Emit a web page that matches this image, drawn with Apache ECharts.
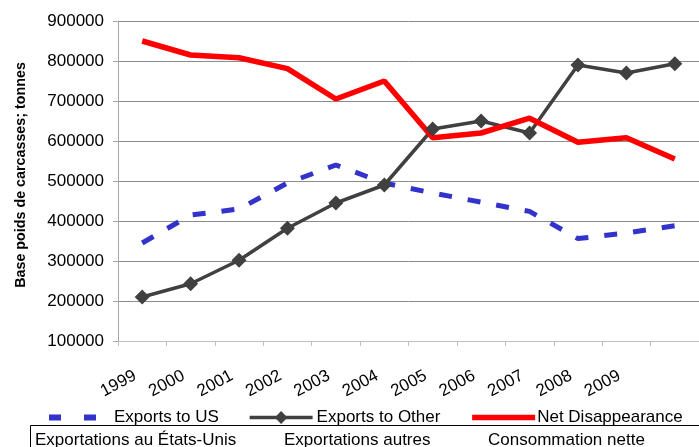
<!DOCTYPE html>
<html>
<head>
<meta charset="utf-8">
<script src="https://cdn.jsdelivr.net/npm/echarts@6/dist/echarts.min.js"></script>
<style>
  html, body { margin: 0; padding: 0; background: #fff; }
  #chart { width: 699px; height: 447px; }
</style>
</head>
<body>
<div id="chart"></div>
<script>
const years = ["1999", "2000", "2001", "2002", "2003", "2004", "2005", "2006", "2007", "2008", "2009", ""];
const exportsUS = [345000, 415000, 430000, 495000, 540000, 495000, 470000, 447000, 424000, 356000, 370000, 388000];
const exportsOther = [210000, 243000, 302000, 382000, 445000, 490000, 630000, 650000, 620000, 790000, 770000, 793000];
const netDisappearance = [850000, 815000, 808000, 781000, 705000, 750000, 608000, 620000, 657000, 597000, 608000, 555000];
const frenchLabels = ["Exportations au États-Unis", "Exportations autres", "Consommation nette"];

const font = "'Liberation Sans', Arial, sans-serif";
const chart = echarts.init(document.getElementById("chart"), null, { renderer: "canvas" });

chart.setOption({
  animation: false,
  textStyle: { fontFamily: font, color: "#000" },
  grid: { left: 118, right: -3, top: 21, bottom: 106, containLabel: false },
  legend: {
    left: 41,
    top: 404,
    width: 690,
    itemWidth: 63,
    itemHeight: 16,
    itemGap: 29,
    textStyle: { fontSize: 17, color: "#000", fontFamily: font, padding: [0, 0, 0, -3] },
    data: [
      { name: "Exports to US", itemStyle: { opacity: 0 }, lineStyle: { width: 6, type: [12, 23] } },
      { name: "Exports to Other", lineStyle: { width: 3.5 }, textStyle: { padding: [0, 5, 0, -1] } },
      { name: "Net Disappearance", itemStyle: { opacity: 0 }, lineStyle: { width: 5.5 } }
    ]
  },
  xAxis: {
    type: "category",
    data: years,
    boundaryGap: true,
    axisLine: { lineStyle: { color: "#bfbfbf", width: 1 } },
    axisTick: { show: true, length: 5, lineStyle: { color: "#bfbfbf" } },
    axisLabel: { rotate: 28, margin: 30, fontSize: 17, color: "#000", interval: 0, padding: [0, 8, 0, 0] }
  },
  yAxis: {
    type: "value",
    min: 100000,
    max: 900000,
    interval: 100000,
    name: "Base poids de carcasses; tonnes",
    nameLocation: "middle",
    nameGap: 90,
    nameTextStyle: { fontSize: 14.3, fontWeight: "bold", color: "#000", padding: [0, 0, 0, 12] },
    axisLine: { show: true, lineStyle: { color: "#a6a6a6" } },
    axisTick: { show: true, length: 5, lineStyle: { color: "#a6a6a6" } },
    axisLabel: { fontSize: 17, color: "#000", margin: 14, formatter: value => String(value) },
    splitLine: { lineStyle: { color: "#8c8c8c", width: 1 } }
  },
  series: [
    {
      name: "Exports to US",
      type: "line",
      data: exportsUS,
      symbol: "none",
      lineStyle: { color: "#3333cc", width: 5, type: [13, 16] },
      itemStyle: { color: "#3333cc" }
    },
    {
      name: "Exports to Other",
      type: "line",
      data: exportsOther,
      symbol: "diamond",
      symbolSize: [15, 15],
      lineStyle: { color: "#404040", width: 3.5 },
      itemStyle: { color: "#404040" }
    },
    {
      name: "Net Disappearance",
      type: "line",
      data: netDisappearance,
      symbol: "none",
      lineStyle: { color: "#ff0000", width: 5.5 },
      itemStyle: { color: "#ff0000" }
    }
  ],
  graphic: [
    {
      type: "rect",
      shape: { x: 30.5, y: 425.5, width: 700, height: 40 },
      style: { fill: "none", stroke: "#000", lineWidth: 1 }
    },
    {
      type: "text",
      x: 35, y: 440,
      style: { text: frenchLabels[0], font: "17px " + font, fill: "#000", verticalAlign: "middle" }
    },
    {
      type: "text",
      x: 284, y: 440,
      style: { text: frenchLabels[1], font: "17px " + font, fill: "#000", verticalAlign: "middle" }
    },
    {
      type: "text",
      x: 488, y: 440,
      style: { text: frenchLabels[2], font: "17px " + font, fill: "#000", verticalAlign: "middle" }
    }
  ]
});
</script>
</body>
</html>
